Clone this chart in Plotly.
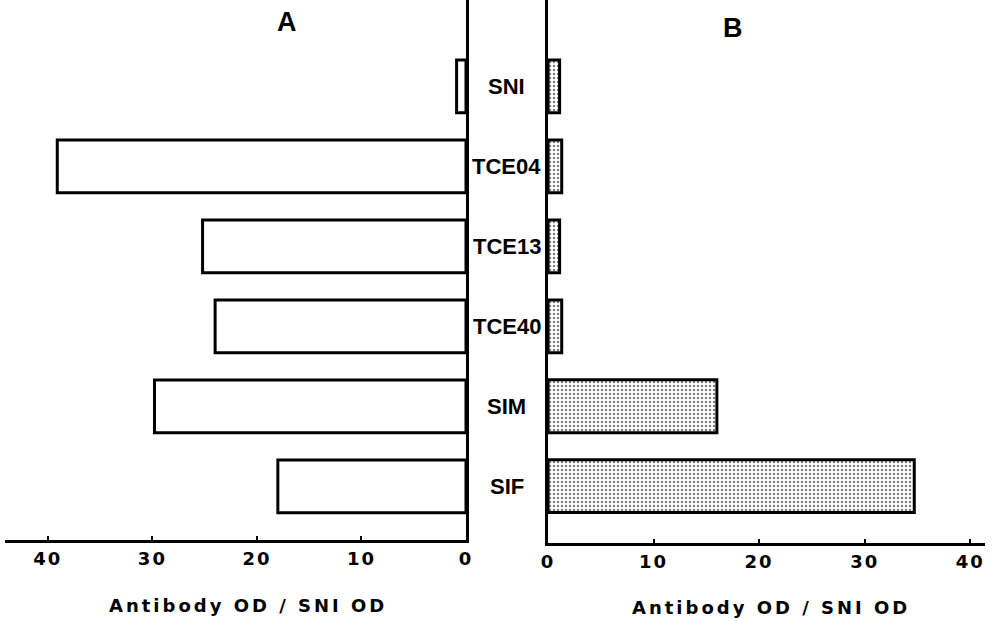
import plotly.graph_objects as go

categories = ["SNI", "TCE04", "TCE13", "TCE40", "SIM", "SIF"]
panel_a_values = [0.9, 39.1, 25.2, 24.0, 29.8, 18.0]
panel_b_values = [1.1, 1.3, 1.1, 1.3, 16.0, 34.7]
tick_vals = [0, 10, 20, 30, 40]
tick_text = ["0", "10", "20", "30", "40"]
axis_title = "Antibody OD / SNI OD"
panel_titles = ["A", "B"]

W, H = 1001, 621
B = 78
PH = H - B  # plot area height (t=0)
FONT = "Liberation Sans"


def py(p):
    """pixel row -> paper y"""
    return 1 - p / PH


def spaced(s, px):
    return f'<span style="letter-spacing:{px}px">{s}</span>'


fig = go.Figure()
fig.add_trace(go.Bar(
    y=categories, x=panel_a_values, orientation="h", width=0.66,
    marker=dict(color="white", line=dict(color="black", width=3)),
    xaxis="x", yaxis="y", showlegend=False,
))
fig.add_trace(go.Bar(
    y=categories, x=panel_b_values, orientation="h", width=0.66,
    marker=dict(color="white", line=dict(color="black", width=3),
                pattern=dict(shape=".", size=4, solidity=0.3,
                             fgcolor="black", bgcolor="white")),
    xaxis="x2", yaxis="y2", showlegend=False,
))

common_x = dict(
    showgrid=False, zeroline=False, showline=True, linecolor="black", linewidth=3,
    ticks="inside", ticklen=4, tickwidth=2, tickcolor="black",
    tickvals=tick_vals, ticktext=[spaced(t, 2) for t in tick_text], automargin=False,
    ticklabelstandoff=0,
    tickfont=dict(family="DejaVu Sans", size=18, color="black", weight="bold"),
)
common_y = dict(showline=True, linecolor="black", linewidth=3, showticklabels=False,
                showgrid=False, zeroline=False, ticks="", automargin=False)
fig.update_layout(
    width=W, height=H,
    margin=dict(l=0, r=0, t=0, b=B, autoexpand=False),
    paper_bgcolor="white", plot_bgcolor="rgba(0,0,0,0)",
    xaxis=dict(domain=[5 / W, 466 / W], range=[44.1, 0], anchor="y", **common_x),
    xaxis2=dict(domain=[548 / W, 985 / W], range=[0, 41.4], anchor="y2", **common_x),
    yaxis=dict(domain=[3 / PH, 1], range=[5.67, -1.08], anchor="x", side="right", **common_y),
    yaxis2=dict(domain=[0, 1], range=[5.71, -1.08], anchor="x2", side="left", **common_y),
)

annotations = []
for c in categories:
    annotations.append(dict(x=507 / W, xref="paper", y=c, yref="y", text=c,
                            showarrow=False, xanchor="center", yanchor="middle",
                            font=dict(family=FONT, size=22, color="black", weight="bold")))
annotations.append(dict(x=287 / W, y=py(22), xref="paper", yref="paper", text=panel_titles[0],
                        showarrow=False, xanchor="center", yanchor="middle",
                        font=dict(family=FONT, size=27, color="black", weight="bold")))
annotations.append(dict(x=733 / W, y=py(28), xref="paper", yref="paper", text=panel_titles[1],
                        showarrow=False, xanchor="center", yanchor="middle",
                        font=dict(family=FONT, size=27, color="black", weight="bold")))
annotations.append(dict(x=248 / W, y=py(605), xref="paper", yref="paper", text=spaced(axis_title, 3),
                        showarrow=False, xanchor="center", yanchor="middle",
                        font=dict(family="DejaVu Sans", size=18, color="black", weight="bold")))
annotations.append(dict(x=771 / W, y=py(607), xref="paper", yref="paper", text=spaced(axis_title, 3),
                        showarrow=False, xanchor="center", yanchor="middle",
                        font=dict(family="DejaVu Sans", size=18, color="black", weight="bold")))
fig.update_layout(annotations=annotations)

fig.write_html(
    "out.html",
    config={"displayModeBar": False},
    post_script="document.body.style.margin='0';document.body.style.overflow='hidden';",
)
